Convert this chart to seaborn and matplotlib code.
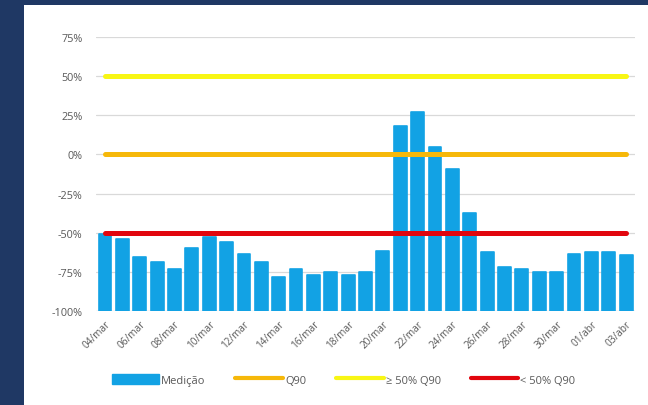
import numpy as np
import pandas as pd
import matplotlib
matplotlib.use("Agg")
import matplotlib.pyplot as plt
from matplotlib.patches import Rectangle, Patch
from matplotlib.lines import Line2D
from matplotlib.ticker import PercentFormatter
import seaborn as sns

# ---- data ----
dates = ["04/mar", "05/mar", "06/mar", "07/mar", "08/mar", "09/mar", "10/mar", "11/mar",
         "12/mar", "13/mar", "14/mar", "15/mar", "16/mar", "17/mar", "18/mar", "19/mar",
         "20/mar", "21/mar", "22/mar", "23/mar", "24/mar", "25/mar", "26/mar", "27/mar",
         "28/mar", "29/mar", "30/mar", "31/mar", "01/abr", "02/abr", "03/abr"]
medicao = [-0.51, -0.54, -0.655, -0.69, -0.73, -0.60, -0.525, -0.56, -0.635, -0.685,
           -0.78, -0.73, -0.77, -0.75, -0.77, -0.75, -0.615, 0.18, 0.27, 0.045,
           -0.095, -0.375, -0.625, -0.72, -0.73, -0.75, -0.75, -0.635, -0.625, -0.625, -0.645]
q90_level = 0.0
upper_level = 0.5
lower_level = -0.5
yticks = [-1.0, -0.75, -0.5, -0.25, 0.0, 0.25, 0.5, 0.75]
legend_labels = ["Medição", "Q90", "≥ 50% Q90", "< 50% Q90"]

# ---- style ----
sns.set_style("white")
plt.rcParams["font.family"] = ["Open Sans", "DejaVu Sans"]
plt.rcParams["axes.unicode_minus"] = False

BAR = "#12A2E4"
ORANGE = "#F6B80A"
YELLOW = "#F8F614"
RED = "#E2060E"
TXT = "#595959"
NAVY = "#1F3864"

fig = plt.figure(figsize=(6.48, 4.06), dpi=100)
fig.patch.set_facecolor("white")
fig.patches.append(Rectangle((0, 0), 24 / 648, 1, transform=fig.transFigure,
                             facecolor=NAVY, edgecolor="none", zorder=0))
fig.patches.append(Rectangle((0, 1 - 6 / 406), 1, 6 / 406, transform=fig.transFigure,
                             facecolor=NAVY, edgecolor="none", zorder=0))

ax = fig.add_axes([96.3 / 648, 1 - 312 / 406, 538.5 / 648, (312 - 38) / 406])

df = pd.DataFrame({"data": dates, "medicao": medicao})
df["altura"] = df["medicao"] - yticks[0]

sns.barplot(data=df, x="data", y="altura", color=BAR, saturation=1, width=0.74,
            bottom=yticks[0], ax=ax, edgecolor=BAR, linewidth=1.2, zorder=2)
for p in ax.patches:
    p.set_joinstyle("round")

n = len(dates)
xs = np.arange(n)
ax.plot(xs, [upper_level] * n, color=YELLOW, lw=3.6, solid_capstyle="round", zorder=3)
ax.plot(xs, [q90_level] * n, color=ORANGE, lw=3.6, solid_capstyle="round", zorder=3)
ax.plot(xs, [lower_level] * n, color=RED, lw=3.6, solid_capstyle="round", zorder=3)

ax.set_xlim(-0.5, n - 0.5)
ax.set_ylim(yticks[0], yticks[-1])
ax.set_yticks(yticks)
ax.yaxis.set_major_formatter(PercentFormatter(1.0, decimals=0))
ax.grid(axis="y", color="#D9D9D9", lw=0.9, zorder=0)
ax.set_axisbelow(True)
for s in ax.spines.values():
    s.set_visible(False)
ax.axhline(yticks[0], color="#D9D9D9", lw=0.9, zorder=1)

ax.set_xticks(xs[::2])
ax.set_xticklabels(dates[::2], rotation=45, ha="right", rotation_mode="anchor")
ax.tick_params(axis="x", labelsize=7.2, colors=TXT, length=0, pad=5)
ax.tick_params(axis="y", labelsize=7.8, colors=TXT, length=0, pad=10)
ax.set_xlabel("")
ax.set_ylabel("")

handles = [Patch(facecolor=BAR, edgecolor=BAR),
           Line2D([], [], color=ORANGE, lw=3),
           Line2D([], [], color=YELLOW, lw=3),
           Line2D([], [], color=RED, lw=3)]
leg = fig.legend(handles, legend_labels, loc="center", bbox_to_anchor=(0.53, 0.062),
                 ncol=4, frameon=False, fontsize=8, handlelength=4.3, handleheight=1.1,
                 handletextpad=0.15, columnspacing=2.7)
for t in leg.get_texts():
    t.set_color(TXT)

fig.savefig("out.png", dpi=100, facecolor="white")
